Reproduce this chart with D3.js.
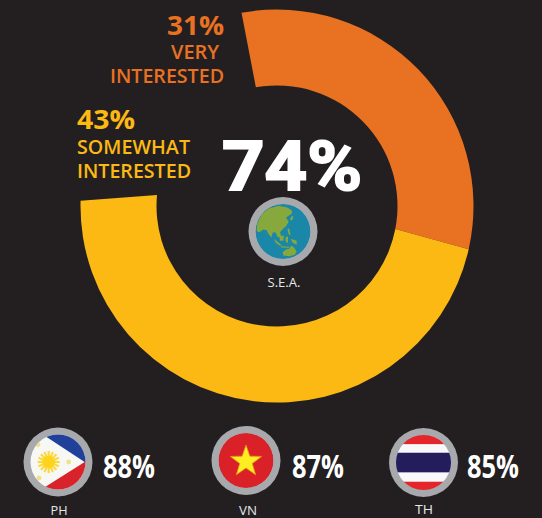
<!DOCTYPE html>
<html><head><meta charset="utf-8">
<script src="https://cdn.jsdelivr.net/npm/d3@7/dist/d3.min.js"></script>
<style>html,body{margin:0;padding:0;background:#231f20}svg{display:block}text{font-family:"Open Sans","Noto Sans",sans-serif}</style>
</head><body><svg id="c" width="542" height="518"></svg>
<script>
const segmentNames = ["VERY INTERESTED", "SOMEWHAT INTERESTED"];
const segmentValues = [31, 43];
const totalValue = 74;
const regionLabel = "S.E.A.";
const countries = ["PH", "VN", "TH"];
const countryValues = [88, 87, 85];

const svg = d3.select("#c");
const BG="#231f20", ORANGE="#e97122", YELLOW="#fdb913", RING="#a7a9ac";
// the source graphic's sweep is hand-drawn, and its cut edges are not quite radial,
// so the value-to-angle scales are piecewise and differ between rims
const rad=d=>d*Math.PI/180;
const outerAngle = d3.scaleLinear().domain([0,31,74]).range([-10.4,102.7,271.5].map(rad));
const innerAngle = d3.scaleLinear().domain([0,31,74]).range([-10.1,101,275.2].map(rad));
const R1=196.5, R0=120.5;
function wedge(from,to){
  const p=d3.path(), t=a=>a-Math.PI/2;
  p.arc(0,0,R1,t(outerAngle(from)),t(outerAngle(to)));
  p.arc(0,0,R0,t(innerAngle(to)),t(innerAngle(from)),true);
  p.closePath();
  return p.toString();
}
let acc=0;
const spans = segmentValues.map(v=>{const s=[acc,acc+v];acc+=v;return s;});
svg.append("g").attr("transform","translate(277,206)").selectAll("path").data(spans).join("path")
  .attr("d",d=>wedge(d[0],d[1])).attr("fill",(d,i)=>[ORANGE,YELLOW][i]);

function label(t,x,y,size,weight,fill,anchor,len,family){
  const e=svg.append("text").attr("x",x).attr("y",y).attr("font-size",size).attr("font-weight",weight)
    .attr("fill",fill).attr("text-anchor",anchor).text(t);
  if(len) e.attr("textLength",len).attr("lengthAdjust","spacingAndGlyphs");
  if(family) e.style("font-family",family);
  return e;
}
label(segmentValues[0]+"%",224,35,27,700,ORANGE,"end",57);
label("VERY",219,59,19,600,ORANGE,"end",48);
label("INTERESTED",224,83,19,600,ORANGE,"end",114);
label(segmentValues[1]+"%",77,129,27,700,YELLOW,"start",58);
label("SOMEWHAT",77,154,19,600,YELLOW,"start",113);
label("INTERESTED",77,178,19,600,YELLOW,"start",114);
label(totalValue+"%",222,190,68,700,"#fff","start",140,"Roboto")
  .attr("stroke","#fff").attr("stroke-width",2).attr("stroke-linejoin","miter");

let clipId=0;
function badge(cx,cy){
  const id="clip"+(clipId++);
  svg.append("clipPath").attr("id",id).append("circle").attr("r",27.5);
  const g=svg.append("g").attr("transform",`translate(${cx},${cy})`);
  g.append("circle").attr("r",34.5).attr("fill",RING);
  return g.append("g").attr("clip-path",`url(#${id})`);
}
const line=d3.line();
const z=pts=>line(pts.map(p=>[(p[0]-249)/3,(p[1]-304)/3]))+"Z";
const globe=badge(283,231.5);
globe.append("circle").attr("r",27.5).attr("fill","#1b87a8");
const land=[
 [[170,300],[172,280],[185,252],[205,236],[235,227],[262,232],[275,240],[276,250],[264,258],[258,262],[266,275],[258,288],[248,297],[240,306],[244,318],[234,322],[226,306],[218,308],[214,322],[206,312],[200,300],[190,298],[182,304],[174,306]],
 [[248,366],[258,358],[268,356],[274,346],[282,352],[290,364],[284,374],[268,378],[250,376]],
 [[222,326],[236,338],[246,346],[238,346],[226,336]],[[242,348],[268,350],[268,353],[244,352]],
 [[238,318],[252,316],[250,332],[240,332]],[[256,322],[264,318],[264,338],[258,336]],
 [[262,296],[268,296],[272,316],[266,312]],[[272,326],[290,332],[290,344],[278,338]],
 [[270,268],[276,256],[280,260],[276,272]]];
globe.selectAll("path").data(land).join("path").attr("d",z).attr("fill","#86a83c");

const cp=[[58,462],[246,460.5],[423.5,462.5]];
const ph=badge(cp[0][0],cp[0][1]);
ph.append("rect").attr("x",-30).attr("y",-30).attr("width",60).attr("height",60).attr("fill","#f7f7f4");
const zp=pts=>line(pts.map(p=>[(p[0]-175)/3,(p[1]-127)/3]))+"Z";
ph.append("path").attr("d",zp([[95,22],[280,22],[280,127],[255,127]])).attr("fill","#21409a");
ph.append("path").attr("d",zp([[95,228],[280,228],[280,127],[255,127]])).attr("fill","#d8232a");
const sun=ph.append("g").attr("transform",`translate(${(147-175)/3},0)`);
d3.range(8).forEach(i=>sun.append("rect").attr("x",-1.1).attr("y",-11).attr("width",2.2).attr("height",22)
  .attr("fill","#fbd93c").attr("transform",`rotate(${i*22.5})`));
sun.append("circle").attr("r",6.2).attr("fill","#fdd31c");
[[115,75],[207,127],[118,175]].forEach(p=>ph.append("circle").attr("cx",(p[0]-175)/3).attr("cy",(p[1]-127)/3).attr("r",2.4).attr("fill","#efe08a"));

const vn=badge(cp[1][0],cp[1][1]);
vn.append("circle").attr("r",27.5).attr("fill","#da2128");
const star=d3.range(10).map(i=>{const r=i%2?6.6:16.5,a=i*Math.PI/5;return [r*Math.sin(a),-r*Math.cos(a)+1];});
vn.append("path").attr("d",line(star)+"Z").attr("fill","#fdee21").attr("stroke","#e8901f").attr("stroke-width",.8);

const th=badge(cp[2][0],cp[2][1]);
[[-30,-18.3,"#e5252a"],[-18.3,-9.7,"#f8f8fa"],[-9.7,10,"#241c5c"],[10,19.3,"#f8f8fa"],[19.3,30,"#e5252a"]].forEach(s=>
  th.append("rect").attr("x",-30).attr("width",60).attr("y",s[0]).attr("height",s[1]-s[0]).attr("fill",s[2]));

const valueX=[103,292,467], nameX=[59,248,424], nameY=[515,515,514];
countries.forEach((c,i)=>{
  label(countryValues[i]+"%",valueX[i],478,32,700,"#fff","start",52);
  label(c,nameX[i],nameY[i],13,400,"#e6e7e8","middle",i===0?17:18);
});
label(regionLabel,284,287,13,400,"#e6e7e8","middle",33);
</script></body></html>
